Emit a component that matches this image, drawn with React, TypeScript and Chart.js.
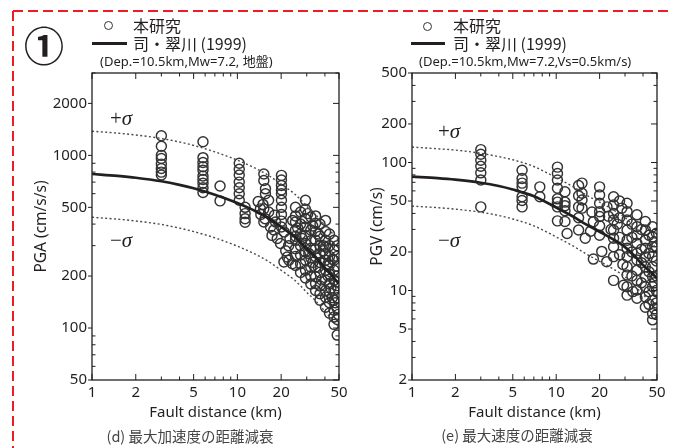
import React, { useEffect, useRef } from "react";
import { Chart, registerables } from "chart.js";

Chart.register(...registerables);

// ---------- data ----------
const curveDist = [1, 1.5, 2, 3, 4, 5, 7, 10, 13, 16, 20, 25, 30, 35, 40, 45, 50];
const pgaMean = [780, 760, 742, 708, 675, 645, 592, 530, 480, 438, 385, 335, 287, 253, 222, 200, 180];
const pgaPlusSigma = [1380, 1345, 1313, 1253, 1195, 1142, 1048, 938, 850, 775, 681, 593, 508, 448, 393, 354, 319];
const pgaMinusSigma = [438, 427, 417, 398, 379, 362, 333, 298, 270, 246, 216, 188, 161, 142, 125, 112, 101];

const pgvMean = [77.5, 75.5, 73.5, 69.5, 65.5, 61.5, 54.5, 44.5, 38, 33, 28.8, 25, 21.8, 18.6, 15.8, 14, 12.5];
const pgvPlusSigma = [132, 128, 125, 118, 111, 105, 93, 76, 65, 56, 49, 42.5, 37, 31.6, 26.9, 23.8, 21.3];
const pgvMinusSigma = [45.6, 44.4, 43.2, 40.9, 38.5, 36.2, 32, 26.2, 22.4, 19.4, 16.9, 14.7, 12.8, 10.9, 9.3, 8.2, 7.4];

// observed (本研究): [fault distance km, value]
const pgaObs: [number, number][] = [
  [3, 1300], [3, 1130], [3, 1000], [3, 960], [3, 890], [3, 840], [3, 800], [3, 770],
  [5.8, 1200], [5.8, 970], [5.8, 910], [5.8, 860], [5.8, 820], [5.8, 760], [5.8, 725], [5.8, 690], [5.8, 650], [5.8, 610],
  [7.6, 665], [7.6, 545],
  [10.3, 900], [10.3, 830], [10.3, 770], [10.3, 700], [10.3, 650], [10.3, 600], [10.3, 550],
  [11.3, 500], [11.3, 460], [11.3, 430], [11.3, 410],
  [15.2, 780], [15.2, 715], [15.6, 640], [15.6, 600], [13.9, 540], [16.4, 550], [15.0, 520], [14.4, 490],
  [15.2, 490], [16.4, 470], [14.5, 455], [15.5, 430], [15.2, 411],
  [16.9, 385], [17.3, 344], [18.3, 411], [17.8, 370], [18.8, 330], [19.8, 309], [18.0, 450],
  [20.1, 766], [20.1, 720], [20.1, 670], [20.1, 630], [20.1, 600], [20.1, 549], [20.1, 500], [20.1, 455], [20.1, 416], [20.1, 385],
  [21, 360], [22, 258], [20.9, 241], [22.6, 247], [23.9, 236], [22.5, 300], [23, 330], [21.5, 280], [24, 420],
  [25.1, 500], [25.1, 446], [25.1, 411], [25.1, 370], [25.1, 340], [25.1, 322], [25.1, 288], [25.1, 260], [25.1, 230],
  [26, 380], [28, 330],
  [27.2, 470], [27.2, 400], [27.2, 350], [27.2, 300], [27.2, 265], [27.2, 236], [27.2, 210],
  [29.4, 549], [29.4, 487], [29.4, 430], [29.4, 385], [29.4, 344], [29.4, 309], [29.4, 276], [29.4, 247], [29.4, 216], [29.4, 195],
  [30.5, 460], [31, 270], [33, 390], [33, 240],
  [32, 440], [32, 370], [32, 320], [32, 290], [32, 255], [32, 225], [32, 200], [32, 180],
  [34.5, 446], [34.5, 404], [34.5, 362], [34.5, 322], [34.5, 288], [34.5, 259], [34.5, 226], [34.5, 198], [34.5, 181], [34.5, 165],
  [36, 350], [36, 225], [38, 190], [39, 280], [39, 300],
  [37, 400], [37, 340], [37, 300], [37, 270], [37, 240], [37, 210], [37, 175], [37, 158], [37, 145],
  [40.4, 420], [40.4, 362], [40.4, 322], [40.4, 295], [40.4, 269], [40.4, 247], [40.4, 216], [40.4, 189], [40.4, 165], [40.4, 151], [40.4, 132],
  [42, 200], [42, 235], [44, 170], [45, 250], [45, 150],
  [43, 350], [43, 300], [43, 260], [43, 232], [43, 205], [43, 180], [43, 160], [43, 140], [43, 122],
  [46.2, 322], [46.2, 282], [46.2, 247], [46.2, 216], [46.2, 189], [46.2, 165], [46.2, 145], [46.2, 127], [46.2, 116], [46.2, 105],
  [47, 140], [47.5, 185], [49.5, 120],
  [48.6, 300], [48.6, 260], [48.6, 228], [48.6, 200], [48.6, 176], [48.6, 150], [48.6, 130], [48.6, 112], [48.6, 91],
];

const pgvObs: [number, number][] = [
  [3, 126], [3, 116], [3, 104], [3, 93.5], [3, 83], [3, 73], [3, 45],
  [5.8, 87], [5.8, 75], [5.8, 69], [5.8, 64.5], [5.8, 54], [5.8, 50.5], [5.8, 45],
  [7.7, 64.5], [7.7, 54],
  [10.2, 92], [10.2, 82], [10.2, 73], [10.2, 63], [10.2, 52], [10.2, 49], [10.2, 45], [10.2, 35],
  [11.5, 59], [11.5, 49], [11.5, 46], [11.5, 42], [11.5, 34.6], [11.9, 27.9],
  [14.3, 66], [14.3, 55], [14.3, 45], [14.3, 37], [14.3, 29.7],
  [15.1, 69], [15.1, 57.5], [15.1, 51], [15.1, 44], [15.9, 25.6],
  [17.7, 41], [18.1, 34.5], [17.3, 29], [18.1, 17.6],
  [20, 64.5], [20, 55.7], [20, 48], [20, 41.3], [20, 37.8], [20, 32], [20, 27], [20.7, 20.2], [22.4, 16.8],
  [22.5, 45], [23, 38], [24, 30],
  [25, 54], [25, 46.5], [25, 40], [25, 35.6], [25, 29.7], [25, 25.6], [25, 22], [25, 18.4], [25, 12],
  [26.5, 33], [28.5, 44], [29, 16],
  [27.5, 50], [27.5, 37], [27.5, 26], [27.5, 19], [29.3, 11],
  [31, 48], [31, 41.3], [31, 35.6], [31, 29.7], [31, 24.7], [31, 21.4], [31, 18.4], [31, 15.3], [31, 13.2], [31, 10.7], [31, 9.2],
  [33.5, 33], [33.5, 26], [33.5, 20], [33.5, 13], [34, 9.8],
  [36.3, 39], [36.3, 31.5], [36.3, 27.2], [36.3, 23.4], [36.3, 19.5], [36.3, 17.3], [36.3, 14.4], [36.3, 12], [36.3, 10.1], [36.3, 8.7],
  [39, 30], [39, 21], [39, 16.5], [39, 11.5],
  [41.5, 34.6], [41.5, 29.7], [41.5, 24.7], [41.5, 21.4], [41.5, 18.4], [41.5, 15.3], [41.5, 12.8], [41.5, 10.7], [41.5, 8.9], [41.5, 7.4],
  [44, 27], [44, 19.5], [44, 14], [44, 9.8], [44, 7.8],
  [46.6, 31.5], [46.6, 26.2], [46.6, 22], [46.6, 18.4], [46.6, 15.3], [46.6, 12.8], [46.6, 10.7], [46.6, 8.4], [46.6, 6.6], [46.6, 5.9],
  [48, 24], [48, 11.5], [48, 7.2],
  [49.5, 28], [49.5, 22], [49.5, 17], [49.5, 13], [49.5, 10], [49.5, 8], [49.5, 6.5],
];

// ticks
const distTicks = [1, 2, 3, 4, 5, 6, 7, 8, 9, 10, 20, 30, 40, 50];
const distLabels = [1, 2, 5, 10, 20, 50];
const pgaTicks = [50, 60, 70, 80, 90, 100, 200, 300, 400, 500, 600, 700, 800, 900, 1000, 2000, 3000];
const pgaLabels = [50, 100, 200, 500, 1000, 2000];
const pgvTicks = [2, 3, 4, 5, 6, 7, 8, 9, 10, 20, 30, 40, 50, 60, 70, 80, 90, 100, 200, 300, 400, 500];
const pgvLabels = [2, 5, 10, 20, 50, 100, 200, 500];

const INK = "#231f20";
const SANS = "'Noto Sans', 'Noto Sans CJK JP', sans-serif";
const CJK = "'Noto Sans CJK JP', 'Noto Sans', sans-serif";

const frameTicks = {
  id: "frameTicks",
  afterDatasetsDraw(chart: any, _args: any, opts: any) {
    const { ctx, chartArea: a, scales } = chart;
    const xs = scales.x;
    const ys = scales.y;
    ctx.save();
    ctx.strokeStyle = INK;
    ctx.lineWidth = 1.3;
    ctx.strokeRect(a.left, a.top, a.right - a.left, a.bottom - a.top);
    const seg = (x1: number, y1: number, x2: number, y2: number) => {
      ctx.beginPath();
      ctx.moveTo(x1, y1);
      ctx.lineTo(x2, y2);
      ctx.stroke();
    };
    ctx.lineWidth = 1;
    for (const v of opts.xTicks) {
      const p = xs.getPixelForValue(v);
      const L = opts.xLabels.includes(v) ? 6 : 3.5;
      seg(p, a.bottom, p, a.bottom - L);
      seg(p, a.top, p, a.top + L);
    }
    for (const v of opts.yTicks) {
      const p = ys.getPixelForValue(v);
      const major = opts.yLabels.includes(v);
      if (major) seg(a.left - 4, p, a.left, p);
      else seg(a.left, p, a.left + 3.5, p);
      seg(a.right, p, a.right - (major ? 6 : 3.5), p);
    }
    ctx.restore();
  },
};

function toPts(xs: number[], ys: number[]) {
  return xs.map((x, i) => ({ x, y: ys[i] }));
}

function makeConfig(p: any) {
  const tickFont = { family: SANS, size: 15 };
  const dotted = (vals: number[]) => ({
    data: toPts(curveDist, vals),
    showLine: true,
    borderColor: "#4a4a4a",
    borderWidth: 1.4,
    borderDash: [2, 2.4],
    pointRadius: 0,
    cubicInterpolationMode: "monotone",
    order: 0,
  });
  return {
    type: "scatter",
    data: {
      datasets: [
        {
          data: toPts(curveDist, p.mean),
          showLine: true,
          borderColor: INK,
          borderWidth: 2.7,
          pointRadius: 0,
          cubicInterpolationMode: "monotone",
          order: 0,
        },
        dotted(p.plus),
        dotted(p.minus),
        {
          data: p.obs.map((d: [number, number]) => ({ x: d[0], y: d[1] })),
          pointRadius: 5,
          pointBorderWidth: 1.45,
          borderColor: "#333",
          backgroundColor: "rgba(0,0,0,0)",
          clip: 0,
          order: 1,
        },
      ],
    },
    options: {
      responsive: false,
      animation: false,
      events: [],
      layout: { padding: { top: 73, right: p.padRight, left: 0, bottom: 0 } },
      plugins: {
        legend: { display: false },
        tooltip: { enabled: false },
        frameTicks: { xTicks: distTicks, xLabels: distLabels, yTicks: p.yTicks, yLabels: p.yLabels },
      },
      scales: {
        x: {
          type: "logarithmic",
          min: 1,
          max: 50,
          afterFit: (s: any) => {
            s.height = 68;
          },
          afterBuildTicks: (s: any) => {
            s.ticks = distLabels.map((v) => ({ value: v }));
          },
          ticks: {
            autoSkip: false,
            maxRotation: 0,
            color: INK,
            font: tickFont,
            padding: 4,
            callback: (v: any) => String(v),
          },
          grid: { display: false, drawTicks: false },
          border: { display: false },
          title: {
            display: true,
            text: "Fault distance (km)",
            color: INK,
            font: { family: SANS, size: 15 },
            padding: { top: 0, bottom: 26 },
          },
        },
        y: {
          type: "logarithmic",
          min: p.yMin,
          max: p.yMax,
          afterFit: (s: any) => {
            s.width = p.yWidth;
          },
          afterBuildTicks: (s: any) => {
            s.ticks = p.yLabels.map((v: number) => ({ value: v }));
          },
          ticks: {
            autoSkip: false,
            color: INK,
            font: tickFont,
            padding: 5,
            callback: (v: any) => String(v),
          },
          grid: { display: false, drawTicks: false },
          border: { display: false },
          title: {
            display: true,
            text: p.yTitle,
            color: INK,
            font: { family: SANS, size: 15.5 },
            padding: { top: p.yTitlePad, bottom: 0 },
          },
        },
      },
    },
    plugins: [frameTicks],
  };
}

function Panel(props: any) {
  const ref = useRef<HTMLCanvasElement>(null);
  useEffect(() => {
    const chart = new Chart(ref.current as HTMLCanvasElement, makeConfig(props.cfg) as any);
    return () => chart.destroy();
  }, []);
  return (
    <canvas
      ref={ref}
      width={props.w}
      height={448}
      style={{ position: "absolute", left: props.left, top: 0, width: props.w, height: 448 }}
    />
  );
}

function Txt(props: any) {
  const h = props.h || 20;
  return (
    <div
      style={{
        position: "absolute",
        left: props.x,
        top: props.cy - h / 2,
        height: h,
        lineHeight: h + "px",
        whiteSpace: "nowrap",
        fontFamily: props.font || SANS,
        fontSize: props.size,
        fontWeight: props.bold ? 700 : 400,
        color: props.color || INK,
        transform: props.center ? "translateX(-50%)" : undefined,
      }}
    >
      {props.children}
    </div>
  );
}

function Sigma(props: any) {
  return (
    <div
      style={{
        position: "absolute",
        left: props.x,
        top: props.cy - 12,
        height: 24,
        lineHeight: "24px",
        fontFamily: "'Liberation Serif', 'DejaVu Serif', serif",
        fontSize: 21,
        color: INK,
        whiteSpace: "nowrap",
      }}
    >
      {props.sign}
      <i>σ</i>
    </div>
  );
}

export default function App() {
  const left = {
    mean: pgaMean,
    plus: pgaPlusSigma,
    minus: pgaMinusSigma,
    obs: pgaObs,
    yMin: 50,
    yMax: 3000,
    yTicks: pgaTicks,
    yLabels: pgaLabels,
    yTitle: "PGA (cm/s/s)",
    yWidth: 92,
    yTitlePad: 32,
    padRight: 21,
  };
  const right = {
    mean: pgvMean,
    plus: pgvPlusSigma,
    minus: pgvMinusSigma,
    obs: pgvObs,
    yMin: 2,
    yMax: 500,
    yTicks: pgvTicks,
    yLabels: pgvLabels,
    yTitle: "PGV (cm/s)",
    yWidth: 67,
    yTitlePad: 23,
    padRight: 16,
  };
  return (
    <div style={{ position: "fixed", left: 0, top: 0, width: 673, height: 448, background: "#fff", overflow: "hidden" }}>
      <svg width={673} height={448} style={{ position: "absolute", left: 0, top: 0 }}>
        <line x1={13} y1={11} x2={673} y2={11} stroke="#ee1c25" strokeWidth={2} strokeDasharray="10 5" />
        <line x1={13} y1={11} x2={13} y2={448} stroke="#ee1c25" strokeWidth={2} strokeDasharray="10 5" />
      </svg>
      <Panel left={0} w={360} cfg={left} />
      <Panel left={345} w={328} cfg={right} />

      <Txt x={44} cy={44} size={40} h={46} font={CJK} bold center>
        ①
      </Txt>

      {/* legend left */}
      <div style={{ position: "absolute", left: 104, top: 21, width: 9, height: 9, borderRadius: "50%", border: "1.3px solid #333", boxSizing: "border-box" }} />
      <Txt x={133} cy={25} size={16} font={CJK}>本研究</Txt>
      <div style={{ position: "absolute", left: 92, top: 41.5, width: 35, height: 3, background: INK }} />
      <Txt x={133} cy={43} size={16} font={CJK}>司・翠川 (1999)</Txt>
      <Txt x={100} cy={61} size={13}>(Dep.=10.5km,Mw=7.2, 地盤)</Txt>

      {/* legend right */}
      <div style={{ position: "absolute", left: 423, top: 22, width: 9, height: 9, borderRadius: "50%", border: "1.3px solid #333", boxSizing: "border-box" }} />
      <Txt x={453} cy={25} size={16} font={CJK}>本研究</Txt>
      <div style={{ position: "absolute", left: 411, top: 41.5, width: 34, height: 3, background: INK }} />
      <Txt x={453} cy={43} size={16} font={CJK}>司・翠川 (1999)</Txt>
      <Txt x={419} cy={61} size={13}>(Dep.=10.5km,Mw=7.2,Vs=0.5km/s)</Txt>

      <Sigma x={110} cy={118} sign="+" />
      <Sigma x={110} cy={240} sign="−" />
      <Sigma x={438} cy={131} sign="+" />
      <Sigma x={438} cy={240} sign="−" />

      <Txt x={190} cy={436} size={14.5} font={CJK} color="#444" center>
        (d) 最大加速度の距離減衰
      </Txt>
      <Txt x={517} cy={435} size={14.5} font={CJK} color="#444" center>
        (e) 最大速度の距離減衰
      </Txt>
    </div>
  );
}
